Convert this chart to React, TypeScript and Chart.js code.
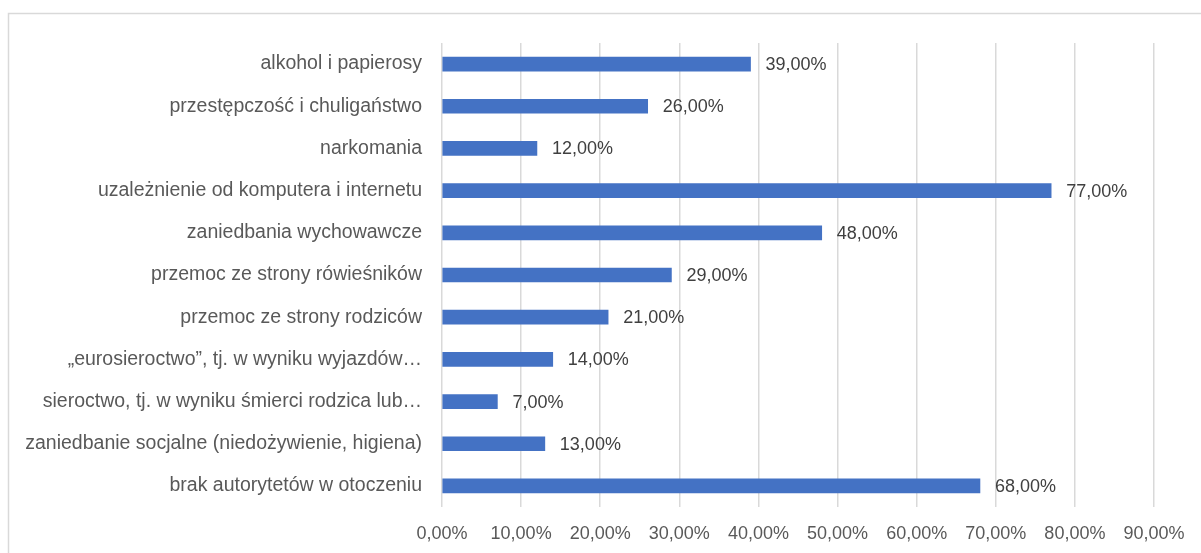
import React, { useEffect, useRef } from "react";
import { Chart, registerables } from "chart.js";

Chart.register(...registerables);

const categories = [
  "alkohol i papierosy",
  "przestępczość i chuligaństwo",
  "narkomania",
  "uzależnienie od komputera i internetu",
  "zaniedbania wychowawcze",
  "przemoc ze strony rówieśników",
  "przemoc ze strony rodziców",
  "„eurosieroctwo”, tj. w wyniku wyjazdów…",
  "sieroctwo, tj. w wyniku śmierci rodzica lub…",
  "zaniedbanie socjalne (niedożywienie, higiena)",
  "brak autorytetów w otoczeniu",
];

const values = [39, 26, 12, 77, 48, 29, 21, 14, 7, 13, 68];

const xMin = 0;
const xMax = 90;
const xStep = 10;

const FONT = "'Liberation Sans', Arial, sans-serif";

const fmt = (v: number) => v.toFixed(2).replace(".", ",") + "%";

const borderPlugin = {
  id: "outerBorder",
  beforeDraw(chart: any) {
    const ctx = chart.ctx;
    ctx.save();
    ctx.fillStyle = "#ffffff";
    ctx.fillRect(0, 0, chart.width, chart.height);
    ctx.strokeStyle = "#d9d9d9";
    ctx.lineWidth = 1.5;
    ctx.strokeRect(8.5, 13.5, chart.width + 20, chart.height + 20);
    ctx.restore();
  },
};

const labelPlugin = {
  id: "valueLabels",
  afterDatasetsDraw(chart: any) {
    const ctx = chart.ctx;
    const meta = chart.getDatasetMeta(0);
    ctx.save();
    ctx.font = `18px ${FONT}`;
    ctx.fillStyle = "#404040";
    ctx.textAlign = "left";
    ctx.textBaseline = "middle";
    meta.data.forEach((bar: any, i: number) => {
      ctx.fillText(fmt(values[i]), bar.x + 15, bar.y + 1);
    });
    ctx.restore();
  },
};

export default function App() {
  const ref = useRef<HTMLCanvasElement>(null);
  useEffect(() => {
    const chart = new Chart(ref.current!, {
      type: "bar",
      data: {
        labels: categories,
        datasets: [
          {
            data: values,
            backgroundColor: "#4472c4",
            barThickness: 14,
          },
        ],
      },
      options: {
        indexAxis: "y",
        animation: false,
        responsive: false,
        layout: { padding: { left: 0, right: 47, top: 43, bottom: 0 } },
        plugins: { legend: { display: false }, tooltip: { enabled: false } },
        scales: {
          x: {
            min: xMin,
            max: xMax,
            ticks: {
              stepSize: xStep,
              callback: (v: any) => fmt(Number(v)),
              font: { family: FONT, size: 18 },
              color: "#595959",
              padding: 16,
              maxRotation: 0,
            },
            grid: { color: "#d9d9d9", lineWidth: 1.5, drawTicks: false },
            border: { display: false },
            afterFit: (s: any) => {
              s.height = 46;
            },
          },
          y: {
            ticks: {
              font: { family: FONT, size: 19.5 },
              color: "#595959",
              padding: 20,
              autoSkip: false,
            },
            grid: { display: false, drawTicks: false },
            border: { display: false },
            afterFit: (s: any) => {
              s.width = 442;
            },
          },
        },
      },
      plugins: [borderPlugin, labelPlugin],
    });
    return () => chart.destroy();
  }, []);
  return (
    <canvas
      ref={ref}
      width={1201}
      height={553}
      style={{ position: "fixed", left: 0, top: 0, width: 1201, height: 553 }}
    />
  );
}
